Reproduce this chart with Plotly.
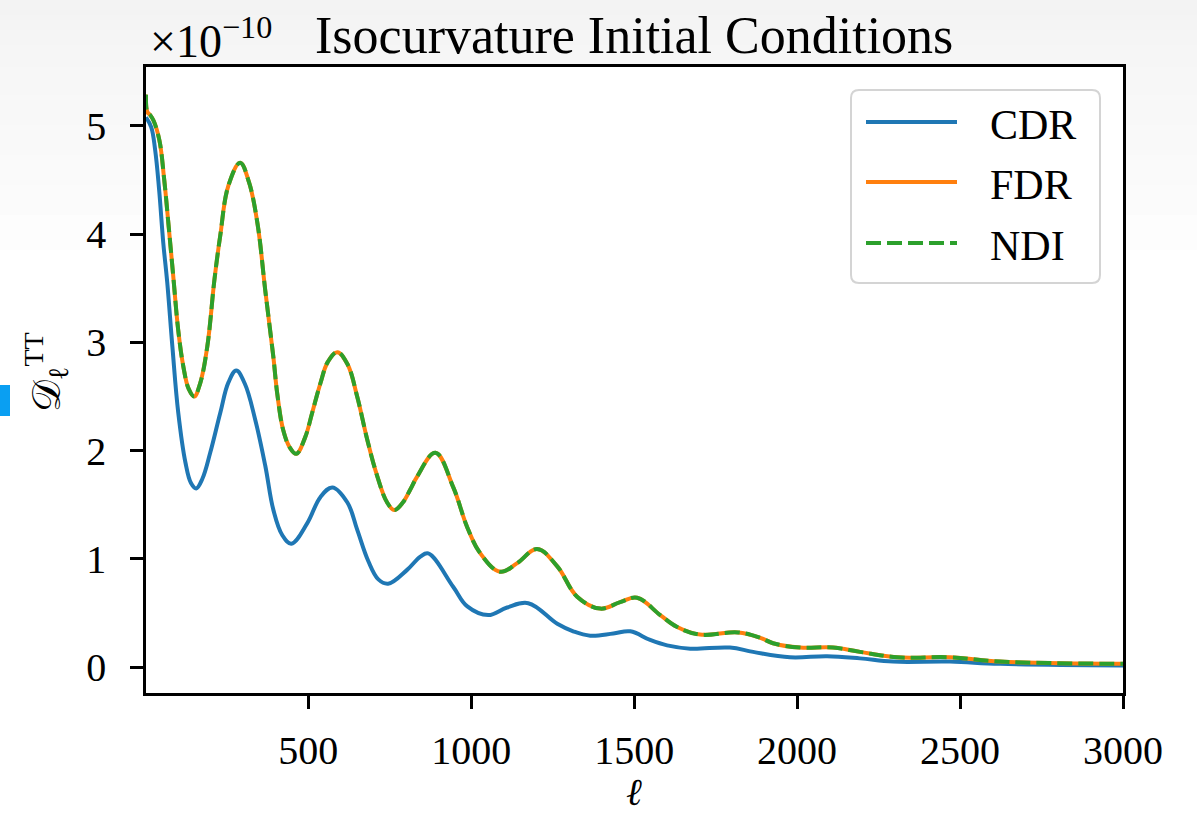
import plotly.graph_objects as go

# ---- data (D_ell^TT in units of 1e-10) ----
ell_cdr = [2, 18, 30, 42, 55, 67, 83, 101, 123, 140, 156, 175, 199, 230, 255, 279, 305,
           336, 368, 393, 420, 448, 497, 537, 574, 620, 650, 684, 715, 745, 804, 844,
           868, 945, 988, 1052, 1110, 1175, 1264, 1313, 1365, 1436, 1488, 1549, 1601,
           1672, 1794, 1865, 1978, 2092, 2193, 2294, 2469, 2623, 3000]
dl_cdr = [5.08, 4.99, 4.78, 4.42, 3.92, 3.56, 2.96, 2.35, 1.89, 1.70, 1.65, 1.74, 1.98,
          2.35, 2.63, 2.74, 2.62, 2.30, 1.86, 1.45, 1.22, 1.14, 1.33, 1.57, 1.66, 1.52,
          1.27, 0.98, 0.81, 0.77, 0.90, 1.02, 1.05, 0.74, 0.56, 0.48, 0.55, 0.59, 0.40,
          0.33, 0.29, 0.31, 0.33, 0.25, 0.20, 0.17, 0.18, 0.14, 0.09, 0.10, 0.08, 0.05,
          0.05, 0.03, 0.015]

ell_fdr = [2, 6, 15, 25, 43, 58, 71, 86, 101, 117, 133, 150, 168, 190, 212, 230, 255,
           291, 318, 344, 368, 393, 405, 423, 443, 463, 490, 512, 537, 560, 589, 620, 650,
           681, 712, 742, 764, 790, 813, 834, 890, 945, 988, 1028, 1089, 1141, 1202, 1264,
           1325, 1396, 1457, 1509, 1580, 1632, 1702, 1819, 1887, 1926, 2009, 2110, 2193,
           2307, 2469, 2623, 3000]
dl_fdr = [5.29, 5.13, 5.10, 5.05, 4.87, 4.50, 4.09, 3.60, 3.11, 2.77, 2.57, 2.50, 2.62,
          2.96, 3.58, 3.99, 4.45, 4.66, 4.48, 4.10, 3.48, 2.86, 2.52, 2.19, 2.03, 1.97,
          2.12, 2.35, 2.62, 2.82, 2.91, 2.80, 2.50, 2.10, 1.76, 1.52, 1.45, 1.52, 1.64,
          1.76, 1.98, 1.66, 1.29, 1.05, 0.88, 0.96, 1.09, 0.93, 0.65, 0.54, 0.60, 0.64,
          0.48, 0.37, 0.30, 0.32, 0.27, 0.22, 0.18, 0.18, 0.14, 0.09, 0.09, 0.05, 0.03]

ell_ndi = list(ell_fdr)
dl_ndi = list(dl_fdr)

series_names = ["CDR", "FDR", "NDI"]
series_colors = ["#1f77b4", "#ff7f0e", "#2ca02c"]
series_dash = ["solid", "solid", "15px,6px"]

x_ticks = [500, 1000, 1500, 2000, 2500, 3000]
y_ticks = [0, 1, 2, 3, 4, 5]

title_text = "Isocurvature Initial Conditions"
offset_text = "×10<sup>−10</sup>"
xlabel = "ℓ"
ylabel = "𝒟<sub>ℓ</sub><sup>TT</sup>"

# ---- layout geometry ----
W, H = 1197, 814
L, R, T, B = 146, 1123, 67, 693
FONT = "Liberation Serif"


def px(x):
    return (x - L) / (R - L)


def py(y):
    return (B - y) / (B - T)


fig = go.Figure()
for ell, dl, name, col, dash in zip([ell_cdr, ell_fdr, ell_ndi], [dl_cdr, dl_fdr, dl_ndi],
                                    series_names, series_colors, series_dash):
    fig.add_trace(go.Scatter(x=ell, y=dl, mode="lines", name=name,
                             line=dict(color=col, width=4, dash=dash, shape="spline",
                                       smoothing=1.1),
                             showlegend=False))

shapes = []
# faint page gradient at top (outside the plot area)
grad = [(0, 15, "#f3f3f3"), (15, 30, "#f4f4f4"), (30, 45, "#f5f5f5"), (45, 67, "#f6f6f6")]
for y0, y1, c in grad:
    shapes.append(dict(type="rect", xref="paper", yref="paper", x0=px(0), x1=px(W),
                       y0=py(y1), y1=py(y0), fillcolor=c, line_width=0, layer="below"))
side = [(67, 95, "#f7f7f7"), (95, 125, "#f8f8f8"), (125, 155, "#f9f9f9"),
        (155, 185, "#fafafa"), (185, 215, "#fbfbfb"), (215, 250, "#fdfdfd")]
for y0, y1, c in side:
    for xa, xb in [(0, L - 1), (R + 1, W)]:
        shapes.append(dict(type="rect", xref="paper", yref="paper", x0=px(xa), x1=px(xb),
                           y0=py(y1), y1=py(y0), fillcolor=c, line_width=0, layer="below"))
# small blue marker on the left page edge
shapes.append(dict(type="rect", xref="paper", yref="paper", x0=px(0), x1=px(10),
                   y0=py(416), y1=py(385), fillcolor="#0a9ff2", line_width=0))

# legend box with rounded corners
bx0, bx1, by0, by1, rr = 851, 1100, 90, 283, 8
path = (f"M {px(bx0+rr)},{py(by0)} L {px(bx1-rr)},{py(by0)} "
        f"Q {px(bx1)},{py(by0)} {px(bx1)},{py(by0+rr)} L {px(bx1)},{py(by1-rr)} "
        f"Q {px(bx1)},{py(by1)} {px(bx1-rr)},{py(by1)} L {px(bx0+rr)},{py(by1)} "
        f"Q {px(bx0)},{py(by1)} {px(bx0)},{py(by1-rr)} L {px(bx0)},{py(by0+rr)} "
        f"Q {px(bx0)},{py(by0)} {px(bx0+rr)},{py(by0)} Z")
shapes.append(dict(type="path", xref="paper", yref="paper", path=path,
                   fillcolor="rgba(255,255,255,0.85)", line=dict(color="#d4d4d4", width=2)))
annotations = []
leg_y = [122, 182, 243]
for name, col, dash, yy in zip(series_names, series_colors, series_dash, leg_y):
    shapes.append(dict(type="line", xref="paper", yref="paper", x0=px(866), x1=px(957),
                       y0=py(yy), y1=py(yy), line=dict(color=col, width=4, dash=dash)))
    annotations.append(dict(x=px(988), y=py(yy + 3), xref="paper", yref="paper", text=name,
                            showarrow=False, xanchor="left", yanchor="middle",
                            font=dict(family=FONT, size=42, color="black")))

annotations += [
    dict(x=px(634), y=py(36), xref="paper", yref="paper", text=title_text, showarrow=False,
         xanchor="center", yanchor="middle", font=dict(family=FONT, size=52, color="black")),
    dict(x=px(148), y=py(38), xref="paper", yref="paper", text=offset_text, showarrow=False,
         xanchor="left", yanchor="middle", font=dict(family=FONT, size=46, color="black")),
    dict(x=px(634), y=py(792), xref="paper", yref="paper", text="<i>" + xlabel + "</i>",
         showarrow=False, xanchor="center", yanchor="middle",
         font=dict(family="DejaVu Serif", size=38, color="black")),
    dict(x=px(46), y=py(372), xref="paper", yref="paper", text=ylabel, showarrow=False,
         textangle=-90, xanchor="center", yanchor="middle",
         font=dict(family=FONT, size=40, color="black")),
]

axis_common = dict(showline=True, linecolor="black", linewidth=2.5, mirror=True,
                   ticks="outside", ticklen=13, tickwidth=2.5, tickcolor="black",
                   showgrid=False, zeroline=False,
                   tickfont=dict(family=FONT, size=40, color="black"))

fig.update_layout(
    width=W, height=H,
    margin=dict(l=L, r=W - R, t=T, b=H - B, pad=0),
    paper_bgcolor="white", plot_bgcolor="white",
    xaxis=dict(range=[2, 3000], tickvals=x_ticks, ticktext=[str(v) for v in x_ticks],
               ticklabelstandoff=7, **axis_common),
    yaxis=dict(range=[-0.24, 5.545], tickvals=y_ticks, ticktext=[str(v) for v in y_ticks],
               ticklabelstandoff=16, **axis_common),
    shapes=shapes, annotations=annotations, showlegend=False,
)

fig.write_html("out.html")
